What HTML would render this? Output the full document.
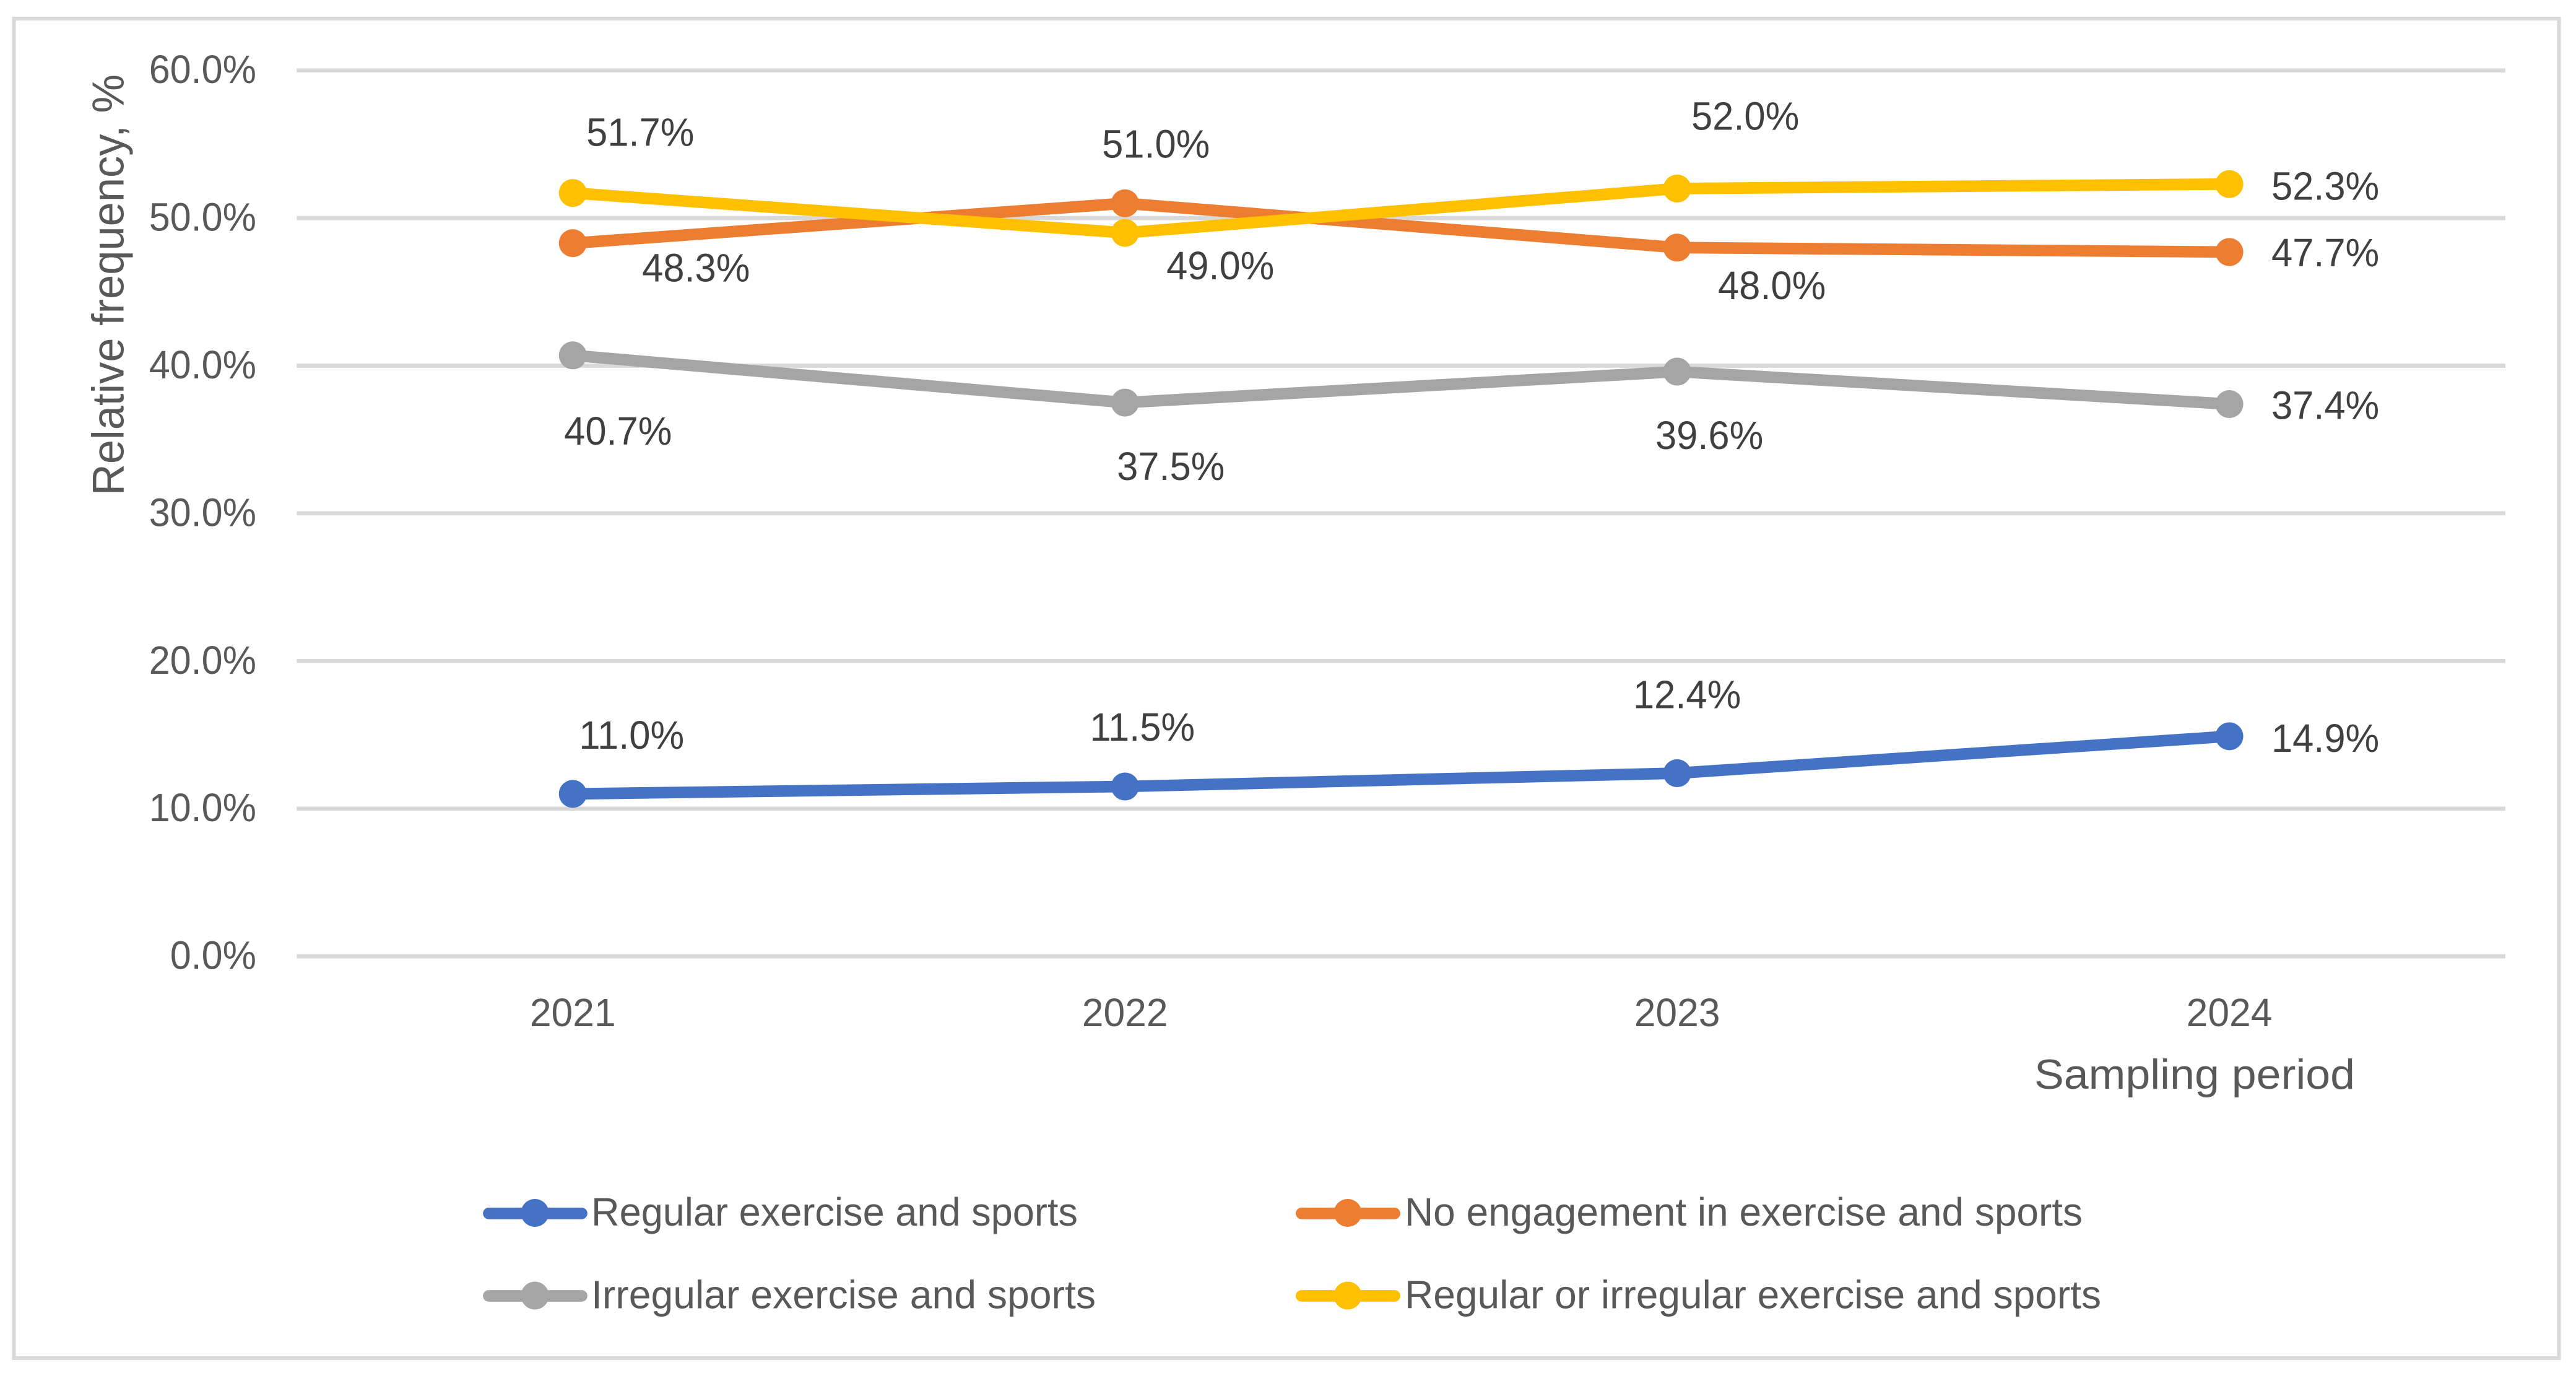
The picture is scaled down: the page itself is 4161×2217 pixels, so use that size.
<!DOCTYPE html>
<html lang="en">
<head>
<meta charset="utf-8">
<title>Relative frequency of exercise and sports by sampling period</title>
<style>
  html, body { margin: 0; padding: 0; background: #fff; }
  svg { display: block; width: 4161px; height: 2217px; }
  text { font-family: "Liberation Sans", sans-serif; font-size: 64px; fill: #595959; }
  .data-label { fill: #404040; }
</style>
</head>
<body>
<svg id="chart" xmlns="http://www.w3.org/2000/svg" width="4161" height="2217" viewBox="0 0 4161 2217">
  <rect x="22.5" y="30" width="4111" height="2163" fill="#fff" stroke="#d9d9d9" stroke-width="6"/>
  <g id="grid"></g>
  <g id="y-ticks"></g>
  <g id="x-ticks"></g>
  <g id="series"></g>
  <g id="labels"></g>

  <text transform="rotate(-90 199.5 800)" x="199.5" y="800" style="font-size:72px" textLength="680" lengthAdjust="spacingAndGlyphs">Relative frequency, %</text>
  <text x="3286" y="1758" style="font-size:68px" textLength="518" lengthAdjust="spacingAndGlyphs">Sampling period</text>

  <g>
    <g>
      <line x1="789.5" y1="1959.3" x2="939.5" y2="1959.3" stroke="#4472c4" stroke-width="18.7" stroke-linecap="round"/>
      <circle cx="864" cy="1958.5" r="22.5" fill="#4472c4"/>
      <text x="955" y="1979" textLength="786" lengthAdjust="spacingAndGlyphs">Regular exercise and sports</text>
    </g>
    <g>
      <line x1="2102.4" y1="1959.3" x2="2252.6" y2="1959.3" stroke="#ed7d31" stroke-width="18.7" stroke-linecap="round"/>
      <circle cx="2177" cy="1958.5" r="22.5" fill="#ed7d31"/>
      <text x="2269" y="1979" textLength="1095" lengthAdjust="spacingAndGlyphs">No engagement in exercise and sports</text>
    </g>
    <g>
      <line x1="789.5" y1="2092.5" x2="939.5" y2="2092.5" stroke="#a5a5a5" stroke-width="18.7" stroke-linecap="round"/>
      <circle cx="864" cy="2092" r="22.5" fill="#a5a5a5"/>
      <text x="955" y="2112.7" textLength="815" lengthAdjust="spacingAndGlyphs">Irregular exercise and sports</text>
    </g>
    <g>
      <line x1="2102.4" y1="2092.5" x2="2252.6" y2="2092.5" stroke="#ffc000" stroke-width="18.7" stroke-linecap="round"/>
      <circle cx="2177" cy="2092" r="22.5" fill="#ffc000"/>
      <text x="2269" y="2112.7" textLength="1125" lengthAdjust="spacingAndGlyphs">Regular or irregular exercise and sports</text>
    </g>
  </g>
</svg>

<script>
const categories = ['2021', '2022', '2023', '2024'];
const yTickValues = [0, 10, 20, 30, 40, 50, 60];
const regularValues = [11.0, 11.5, 12.4, 14.9];
const noEngagementValues = [48.3, 51.0, 48.0, 47.7];
const irregularValues = [40.7, 37.5, 39.6, 37.4];
const regularOrIrregularValues = [51.7, 49.0, 52.0, 52.3];

// Manual data-label nudges relative to each point, as set by hand in the original chart.
const regularNudge = [[95, -73], [28, -74], [16, -105], [155, 25]];
const noEngagementNudge = [[199, 62], [50, -74], [153, 83], [155, 23]];
const irregularNudge = [[73, 144], [74, 125], [52, 125], [155, 24]];
const anyNudge = [[109, -76], [154, 75], [110, -95], [155, 25]];

const NS = 'http://www.w3.org/2000/svg';
const plotLeft = 479.3, plotRight = 4047, yZero = 1544.1, yPerUnit = 23.84;
const bandWidth = (plotRight - plotLeft) / categories.length;
function xPos(i) { return plotLeft + bandWidth * (i + 0.5); }
function yPos(v) { return yZero - v * yPerUnit; }

function squeeze(t, k) {
  const len = t.getComputedTextLength();
  t.setAttribute('textLength', (len * k).toFixed(1));
  t.setAttribute('lengthAdjust', 'spacingAndGlyphs');
}

const gridG = document.getElementById('grid');
const yTickG = document.getElementById('y-ticks');
yTickValues.forEach(function (v) {
  const line = document.createElementNS(NS, 'line');
  
  
  line.setAttribute('x1', plotLeft);
  line.setAttribute('x2', plotRight);
  line.setAttribute('y1', yPos(v));
  line.setAttribute('y2', yPos(v));
  line.setAttribute('stroke', '#d9d9d9');
  line.setAttribute('stroke-width', '6.7');
  gridG.appendChild(line);

  const t = document.createElementNS(NS, 'text');
  
  
  t.setAttribute('x', 414);
  t.setAttribute('y', yPos(v) + 20.5);
  t.setAttribute('text-anchor', 'end');
  t.textContent = v.toFixed(1) + '%';
  yTickG.appendChild(t);
  squeeze(t, 0.955);
});

const xTickG = document.getElementById('x-ticks');
categories.forEach(function (c, i) {
  const t = document.createElementNS(NS, 'text');
  
  
  t.setAttribute('x', xPos(i));
  t.setAttribute('y', 1657);
  t.setAttribute('text-anchor', 'middle');
  t.textContent = c;
  xTickG.appendChild(t);
  squeeze(t, 0.975);
});

const seriesG = document.getElementById('series');
const labelG = document.getElementById('labels');

function drawSeries(key, values, color, nudge) {
  const path = document.createElementNS(NS, 'polyline');
  
  
  path.setAttribute('points', values.map(function (v, i) { return xPos(i) + ',' + yPos(v); }).join(' '));
  path.setAttribute('fill', 'none');
  path.setAttribute('stroke', color);
  path.setAttribute('stroke-width', '18.7');
  path.setAttribute('stroke-linejoin', 'round');
  path.setAttribute('stroke-linecap', 'round');
  seriesG.appendChild(path);

  values.forEach(function (v, i) {
    const dot = document.createElementNS(NS, 'circle');
    
    
    dot.setAttribute('cx', xPos(i));
    dot.setAttribute('cy', yPos(v));
    dot.setAttribute('r', '22.5');
    dot.setAttribute('fill', color);
    seriesG.appendChild(dot);

    const t = document.createElementNS(NS, 'text');
    
    
    t.setAttribute('class', 'data-label');
    t.setAttribute('x', xPos(i) + nudge[i][0]);
    t.setAttribute('y', yPos(v) + nudge[i][1]);
    t.setAttribute('text-anchor', 'middle');
    t.textContent = v.toFixed(1) + '%';
    labelG.appendChild(t);
    squeeze(t, 0.96);
  });
}

drawSeries('regular', regularValues, '#4472c4', regularNudge);
drawSeries('no-engagement', noEngagementValues, '#ed7d31', noEngagementNudge);
drawSeries('irregular', irregularValues, '#a5a5a5', irregularNudge);
drawSeries('regular-or-irregular', regularOrIrregularValues, '#ffc000', anyNudge);
</script>
</body>
</html>
